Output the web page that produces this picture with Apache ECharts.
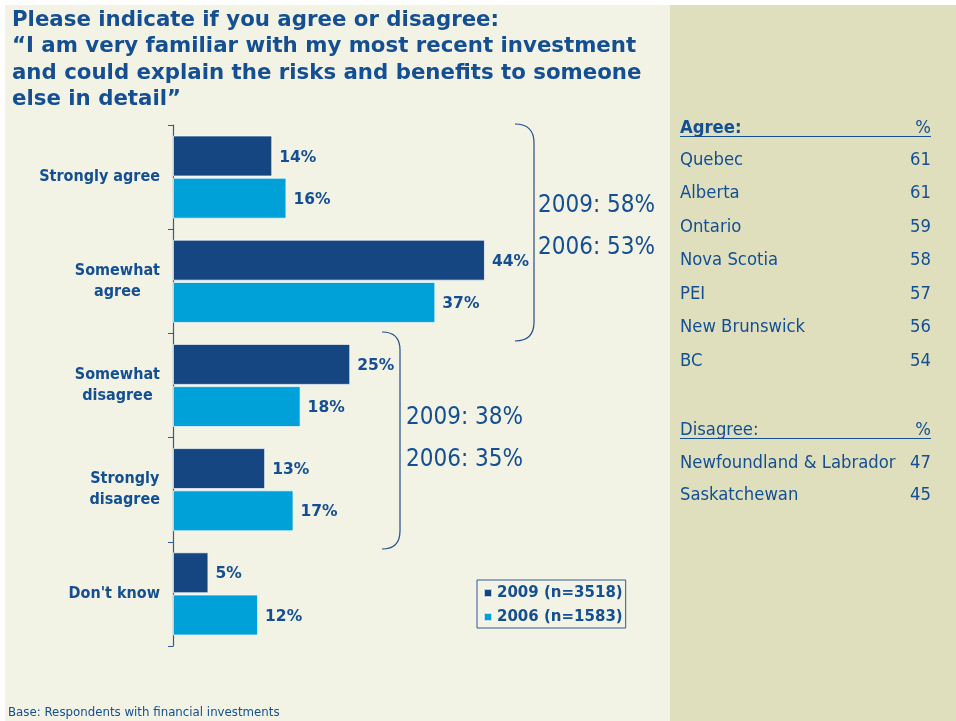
<!DOCTYPE html>
<html><head><meta charset="utf-8">
<script src="https://cdn.jsdelivr.net/npm/echarts@6/dist/echarts.min.js"></script>
<style>html,body{margin:0;padding:0;background:#fff}#c{width:956px;height:721px}</style>
</head><body><div id="c"></div>
<script>
var categories = ['Strongly agree', 'Somewhat\nagree', 'Somewhat\ndisagree', 'Strongly\ndisagree', "Don't know"];
var values2009 = [14, 44, 25, 13, 5];
var values2006 = [16, 37, 18, 17, 12];
var seriesNames = ['2009 (n=3518)', '2006 (n=1583)'];
var bracketTexts = [['2009: 58%', '2006: 53%'], ['2009: 38%', '2006: 35%']];
var agreeProv = ['Quebec', 'Alberta', 'Ontario', 'Nova Scotia', 'PEI', 'New Brunswick', 'BC'];
var agreePct = [61, 61, 59, 58, 57, 56, 54];
var disagreeProv = ['Newfoundland & Labrador', 'Saskatchewan'];
var disagreePct = [47, 45];
var titleLines = ['Please indicate if you agree or disagree:', '\u201CI am very familiar with my most recent investment', 'and could explain the risks and benefits to someone', 'else in detail\u201D'];

var FC = '"DejaVu Sans Condensed", "DejaVu Sans", sans-serif';
var FN = '"DejaVu Sans", sans-serif';
var TXT = '#134f92';
var DARK = '#164682';
var LIGHT = '#00a0d8';

var chart = echarts.init(document.getElementById('c'));

function txt(s, x, y, font, align){
  return {type:'text', style:{text:s, x:x, y:y, font:font, fill:TXT, textAlign:align||'left', textVerticalAlign:'middle'}};
}

var g = [];
g.push({type:'rect', shape:{x:5,y:5,width:665,height:716}, style:{fill:'#f2f2e5'}, z:-10});
g.push({type:'rect', shape:{x:670,y:5,width:286,height:716}, style:{fill:'#dfdfbe'}, z:-10});
titleLines.forEach(function(t,i){
  g.push(txt(t, 12, 20+i*26.6, 'bold 21.3px '+FN));
});
g.push(txt('Base: Respondents with financial investments', 8, 713, '11.8px '+FN));

// brackets
function bracket(x0, x1, y0, y1){
  var r = x1 - x0;
  var st = {stroke:'#1f4e8c', lineWidth:1.2, fill:null};
  g.push({type:'bezierCurve', shape:{x1:x0,y1:y0,x2:x1,y2:y0+r,cpx1:x1,cpy1:y0}, style:st});
  g.push({type:'line', shape:{x1:x1,y1:y0+r,x2:x1,y2:y1-r}, style:st});
  g.push({type:'bezierCurve', shape:{x1:x1,y1:y1-r,x2:x0,y2:y1,cpx1:x1,cpy1:y1}, style:st});
}
bracket(515, 534, 124, 341);
bracket(382, 400, 332, 549);
g.push(txt(bracketTexts[0][0], 538, 206, '24px '+FC));
g.push(txt(bracketTexts[0][1], 538, 248, '24px '+FC));
g.push(txt(bracketTexts[1][0], 406, 418, '24px '+FC));
g.push(txt(bracketTexts[1][1], 406, 460, '24px '+FC));

// right panel table
var TF = '18.3px ' + FC;
function header(label, bold, y){
  g.push(txt(label, 680, y, (bold?'bold ':'')+TF));
  g.push(txt('%', 931, y, TF, 'right'));
  g.push({type:'line', shape:{x1:680,y1:y+8.5,x2:931,y2:y+8.5}, style:{stroke:TXT, lineWidth:1.2}});
}
header('Agree:', true, 128);
agreeProv.forEach(function(p,i){
  var y = 160 + i*33.5;
  g.push(txt(p, 680, y, TF));
  g.push(txt(String(agreePct[i]), 931, y, TF, 'right'));
});
header('Disagree:', false, 430);
disagreeProv.forEach(function(p,i){
  var y = 463 + i*32.5;
  g.push(txt(p, 680, y, TF));
  g.push(txt(String(disagreePct[i]), 931, y, TF, 'right'));
});

var lbl = {show:true, position:'right', distance:7, offset:[0,1.5], formatter:'{c}%', color:TXT, fontFamily:FN, fontWeight:'bold', fontSize:15.5};

chart.setOption({
  backgroundColor:'#ffffff',
  animation:false,
  graphic:g,
  grid:{left:173, top:125, width:354.5, height:521, containLabel:false},
  legend:{
    orient:'vertical', left:477, top:580,
    padding:[5.5,3,3.5,6], itemGap:9, itemWidth:8, itemHeight:8, icon:'rect',
    borderColor:'#2a5aa0', borderWidth:1,
    textStyle:{color:TXT, fontFamily:FN, fontWeight:'bold', fontSize:15},
    data:seriesNames
  },
  xAxis:{type:'value', min:0, max:50, show:false},
  yAxis:{type:'category', inverse:true, data:categories,
    axisLine:{lineStyle:{color:'#2a5aa0', width:1.2}},
    axisTick:{show:true, length:5, lineStyle:{color:'#2a5aa0'}},
    axisLabel:{margin:13, align:'right',
      formatter:function(v){ return v.split('\n').map(function(s){return '{c|'+s+'}';}).join('\n'); },
      rich:{c:{align:'center', color:TXT, fontFamily:FC, fontWeight:'bold', fontSize:16, lineHeight:21}}
    }
  },
  series:[
    {name:seriesNames[0], type:'bar', data:values2009, barWidth:41, barGap:'3%',
      itemStyle:{color:DARK, borderColor:'rgba(255,255,255,0.7)', borderWidth:1}, label:lbl},
    {name:seriesNames[1], type:'bar', data:values2006, barWidth:41,
      itemStyle:{color:LIGHT, borderColor:'rgba(255,255,255,0.7)', borderWidth:1}, label:lbl}
  ]
});
</script></body></html>
